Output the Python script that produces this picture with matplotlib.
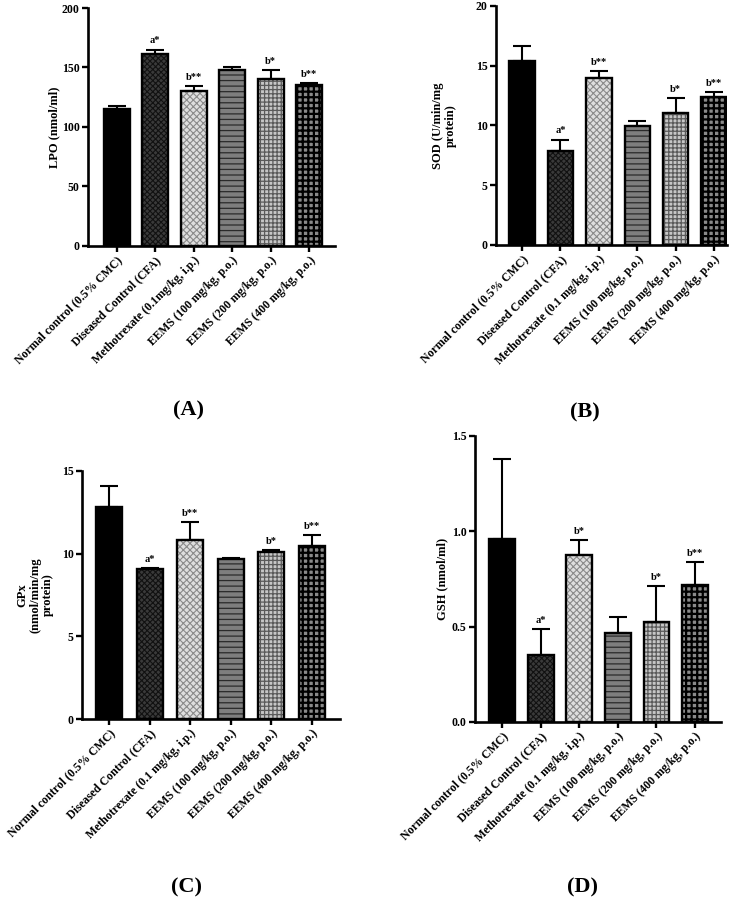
import matplotlib
matplotlib.use("Agg")
import matplotlib.pyplot as plt
import numpy as np

plt.rcParams['font.family'] = ['Liberation Serif', 'DejaVu Serif']
plt.rcParams['font.weight'] = 'bold'

groups_a = ["Normal control (0.5% CMC)", "Diseased Control (CFA)",
            "Methotrexate (0.1mg/kg, i.p.)", "EEMS (100 mg/kg, p.o.)",
            "EEMS (200 mg/kg, p.o.)", "EEMS (400 mg/kg, p.o.)"]
groups = ["Normal control (0.5% CMC)", "Diseased Control (CFA)",
          "Methotrexate (0.1 mg/kg, i.p.)", "EEMS (100 mg/kg, p.o.)",
          "EEMS (200 mg/kg, p.o.)", "EEMS (400 mg/kg, p.o.)"]

lpo_mean = [115.4, 161.5, 130.5, 148.0, 140.5, 135.0]
lpo_err = [2.3, 3.6, 4.0, 2.8, 7.0, 2.0]
sod_mean = [15.4, 7.9, 13.95, 9.98, 11.05, 12.4]
sod_err = [1.25, 0.92, 0.62, 0.40, 1.22, 0.38]
gpx_mean = [12.83, 9.06, 10.8, 9.66, 10.1, 10.44]
gpx_err = [1.29, 0.08, 1.09, 0.10, 0.14, 0.70]
gsh_mean = [0.96, 0.35, 0.878, 0.468, 0.526, 0.718]
gsh_err = [0.42, 0.139, 0.074, 0.083, 0.185, 0.122]

sig_a = ["", "a*", "b**", "", "b*", "b**"]
sig_b = ["", "a*", "b**", "", "b*", "b**"]
sig_c = ["", "a*", "b**", "", "b*", "b**"]
sig_d = ["", "a*", "b*", "", "b*", "b**"]

# bar styles: (facecolor, hatch, hatchcolor, hatch linewidth)
styles = [
    ("#000000", None, "#000000", 0.8),
    ("#3a3a3a", "xxxxxx", "#111111", 0.8),
    ("#dedede", "xxxxx", "#8a8a8a", 0.8),
    ("#7e7e7e", "---", "#2a2a2a", 0.9),
    ("#c6c6c6", "++++", "#5a5a5a", 0.9),
    ("#8a8a8a", "+++", "#000000", 1.6),
]

fig = plt.figure(figsize=(7.44, 9.0), dpi=100)

panels = [
    dict(rect=[0.1183, 0.7267, 0.332, 0.2644], mean=lpo_mean, err=lpo_err, sig=sig_a,
         labels=groups_a, ylim=(0, 200), yticks=[0, 50, 100, 150, 200], fmt="{:.0f}",
         xlim=(-0.745, 5.67), width=0.675, ylabel="LPO (nmol/ml)", ylx=-0.113,
         tag="(A)", tagxy=(188, 410)),
    dict(rect=[0.6667, 0.7278, 0.3105, 0.2656], mean=sod_mean, err=sod_err, sig=sig_b,
         labels=groups, ylim=(0, 20), yticks=[0, 5, 10, 15, 20], fmt="{:.0f}",
         xlim=(-0.68, 5.34), width=0.66, ylabel="SOD (U/min/mg\nprotein)", ylx=-0.17,
         tag="(B)", tagxy=(585, 412)),
    dict(rect=[0.1102, 0.2011, 0.3468, 0.2756], mean=gpx_mean, err=gpx_err, sig=sig_c,
         labels=groups, ylim=(0, 15), yticks=[0, 5, 10, 15], fmt="{:.0f}",
         xlim=(-0.665, 5.69), width=0.64, ylabel="GPx\n(nmol/min/mg\nprotein)", ylx=-0.11,
         tag="(C)", tagxy=(187, 887)),
    dict(rect=[0.6384, 0.1978, 0.3306, 0.3178], mean=gsh_mean, err=gsh_err, sig=sig_d,
         labels=groups, ylim=(0, 1.5), yticks=[0.0, 0.5, 1.0, 1.5], fmt="{:.1f}",
         xlim=(-0.70, 5.67), width=0.67, ylabel="GSH (nmol/ml)", ylx=-0.11,
         tag="(D)", tagxy=(582, 887)),
]

for p in panels:
    ax = fig.add_axes(p["rect"])
    x = np.arange(len(p["mean"]))
    for i in range(len(x)):
        fc, h, hc, hlw = styles[i]
        with plt.rc_context({'hatch.linewidth': hlw}):
            ax.bar(x[i], p["mean"][i], width=p["width"], color=fc, hatch=h,
                   edgecolor=hc, linewidth=0, zorder=2)
        ax.bar(x[i], p["mean"][i], width=p["width"], fill=False,
               edgecolor="black", linewidth=1.7, zorder=3)
    ax.errorbar(x, p["mean"], yerr=[np.zeros(len(x)), p["err"]], fmt="none",
                ecolor="black", elinewidth=1.5, capsize=6.5, capthick=1.5, zorder=1)
    for i in range(len(x)):
        if p["sig"][i]:
            ax.annotate(p["sig"][i], (x[i], p["mean"][i] + p["err"][i]),
                        xytext=(0, 3), textcoords="offset points",
                        ha="center", va="bottom", fontsize=7.5, fontweight="bold")
    ax.set_xlim(*p["xlim"])
    ax.set_ylim(*p["ylim"])
    ax.set_yticks(p["yticks"])
    ax.set_yticklabels([p["fmt"].format(v) for v in p["yticks"]],
                       fontsize=8.5, fontweight="bold")
    ax.set_xticks(x)
    ax.set_xticklabels(p["labels"], rotation=45, ha="right",
                       rotation_mode="anchor", fontsize=8.5, fontweight="bold")
    for s in ["top", "right"]:
        ax.spines[s].set_visible(False)
    for s in ["left", "bottom"]:
        ax.spines[s].set_linewidth(1.9)
    ax.tick_params(axis="both", direction="out", length=4, width=1.7, pad=2)
    ax.set_ylabel(p["ylabel"], fontsize=9, fontweight="bold", linespacing=1.05)
    ax.yaxis.set_label_coords(p["ylx"], 0.5)
    fig.text(p["tagxy"][0] / 744, 1 - p["tagxy"][1] / 900, p["tag"],
             ha="center", va="center", fontsize=16, fontweight="bold")

fig.savefig("out.png", dpi=100)
